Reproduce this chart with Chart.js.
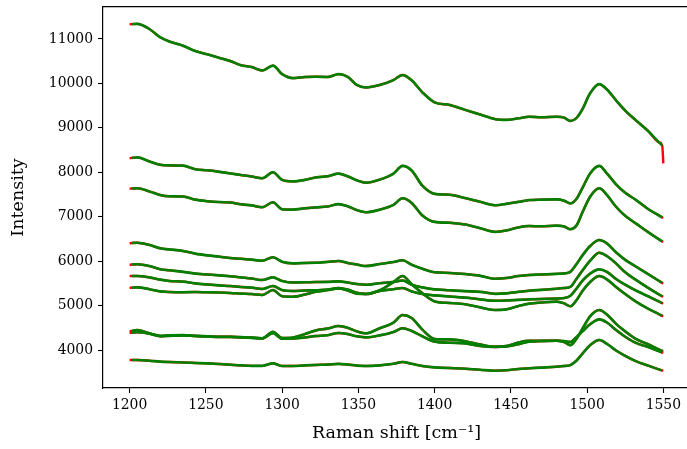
<!DOCTYPE html>
<html>
<head>
<meta charset="utf-8">
<script src="https://cdn.jsdelivr.net/npm/chart.js@4"></script>
<style>
  html, body { margin: 0; padding: 0; background: #fff; overflow: hidden; }
  canvas { display: block; }
</style>
</head>
<body>
<canvas id="ramanChart" width="690" height="449"></canvas>
<script>
// Raman shift axis (cm^-1)
const shift = [
  1200, 1201.5, 1205, 1213, 1220, 1226, 1235, 1243, 1251, 1259, 1266, 1273, 1280,
  1287, 1294, 1300, 1307, 1315, 1322, 1330, 1337, 1343, 1349, 1355, 1364, 1373,
  1379, 1385, 1392, 1400, 1410, 1420, 1430, 1440, 1447, 1455, 1462, 1470, 1480,
  1485, 1489, 1493, 1497, 1502, 1508, 1513, 1519, 1525, 1532, 1540, 1547, 1549.3, 1550
];

// intensities, one array per spectrum
const sample1 = [
  11330, 11335, 11340, 11225, 11040, 10945, 10850, 10730, 10655, 10575, 10505, 10410, 10370,
  10290, 10400, 10210, 10120, 10145, 10150, 10145, 10210, 10150, 9965, 9910, 9965, 10075,
  10190, 10070, 9800, 9575, 9515, 9405, 9300, 9195, 9180, 9215, 9250, 9240, 9250,
  9230, 9155, 9220, 9420, 9780, 9985, 9865, 9620, 9390, 9170, 8930, 8680, 8600, 8200
];
const sample2 = [
  8315, 8325, 8335, 8245, 8170, 8155, 8150, 8070, 8045, 8010, 7975, 7940, 7905,
  7865, 8000, 7830, 7795, 7830, 7885, 7910, 7970, 7910, 7820, 7765, 7835, 7970,
  8145, 8040, 7700, 7515, 7495, 7420, 7335, 7260, 7290, 7335, 7375, 7385, 7390,
  7360, 7300, 7400, 7650, 7975, 8145, 7975, 7730, 7540, 7380, 7175, 7030, 6985, 6980
];
const sample3 = [
  7630, 7635, 7640, 7570, 7490, 7460, 7455, 7385, 7350, 7330, 7320, 7280, 7255,
  7215, 7325, 7170, 7160, 7190, 7210, 7230, 7285, 7235, 7150, 7100, 7160, 7265,
  7415, 7310, 7030, 6885, 6865, 6825, 6740, 6660, 6690, 6760, 6790, 6785, 6800,
  6780, 6720, 6800, 7100, 7450, 7640, 7490, 7225, 7020, 6850, 6655, 6495, 6445, 6440
];
const sample4 = [
  6400, 6410, 6415, 6365, 6290, 6265, 6230, 6170, 6130, 6100, 6070, 6055, 6035,
  6010, 6090, 5985, 5950, 5960, 5965, 5985, 6005, 5960, 5925, 5890, 5935, 5980,
  6020, 5920, 5830, 5750, 5735, 5710, 5670, 5605, 5620, 5665, 5690, 5700, 5715,
  5725, 5760, 5930, 6130, 6340, 6475, 6400, 6200, 6030, 5880, 5710, 5560, 5510, 5500
];
const sample5 = [
  5915, 5925, 5930, 5890, 5820, 5795, 5760, 5720, 5700, 5680, 5660, 5635, 5610,
  5575, 5635, 5555, 5520, 5525, 5530, 5535, 5545, 5520, 5485, 5470, 5505, 5530,
  5565, 5470, 5410, 5365, 5345, 5325, 5310, 5265, 5275, 5310, 5335, 5355, 5380,
  5395, 5420, 5600, 5790, 6010, 6190, 6115, 5950, 5750, 5580, 5400, 5255, 5210, 5200
];
const sample6 = [
  5665, 5665, 5665, 5635, 5585, 5555, 5540, 5500, 5475, 5455, 5440, 5420, 5405,
  5375, 5440, 5350, 5330, 5340, 5345, 5360, 5395, 5360, 5290, 5260, 5330, 5370,
  5395, 5320, 5260, 5230, 5205, 5180, 5140, 5110, 5115, 5130, 5140, 5150, 5160,
  5170, 5220, 5380, 5560, 5720, 5815, 5760, 5600, 5470, 5340, 5210, 5095, 5055, 5050
];
const sample7 = [
  5400, 5405, 5410, 5370, 5320, 5305, 5300, 5305, 5300, 5295, 5285, 5270, 5260,
  5240, 5350, 5210, 5200, 5250, 5310, 5350, 5385, 5340, 5270, 5260, 5345, 5530,
  5665, 5480, 5280, 5095, 5060, 5030, 4960, 4900, 4915, 4990, 5045, 5070, 5090,
  5050, 4985, 5120, 5330, 5530, 5665, 5590, 5420, 5260, 5090, 4930, 4810, 4770, 4765
];
const sample8 = [
  4420, 4430, 4450, 4375, 4320, 4330, 4335, 4320, 4310, 4300, 4300, 4290, 4280,
  4265, 4410, 4270, 4280, 4360, 4440, 4485, 4540, 4500, 4420, 4375, 4490, 4615,
  4790, 4720, 4460, 4250, 4240, 4200, 4125, 4075, 4090, 4170, 4210, 4210, 4210,
  4180, 4110, 4250, 4480, 4760, 4900, 4800, 4590, 4420, 4250, 4130, 4015, 3980, 3977
];
const sample9 = [
  4385, 4390, 4400, 4370, 4310, 4320, 4330, 4315, 4305, 4295, 4295, 4285, 4275,
  4260, 4380, 4255, 4260, 4285, 4315, 4335, 4385, 4360, 4310, 4285, 4330, 4405,
  4490, 4430, 4310, 4190, 4165, 4150, 4090, 4070, 4080, 4130, 4190, 4200, 4210,
  4200, 4180, 4290, 4420, 4580, 4690, 4620, 4450, 4300, 4160, 4070, 3975, 3945, 3940
];
const sample10 = [
  3775, 3775, 3775, 3760, 3740, 3730, 3720, 3710, 3700, 3685, 3670, 3655, 3645,
  3645, 3700, 3640, 3640, 3655, 3665, 3675, 3690, 3675, 3650, 3640, 3655, 3690,
  3730, 3690, 3640, 3610, 3595, 3580, 3555, 3535, 3545, 3575, 3590, 3605, 3625,
  3640, 3660, 3760, 3920, 4110, 4225, 4140, 3990, 3870, 3750, 3650, 3565, 3540, 3535
];

const spectra = [sample1, sample2, sample3, sample4, sample5, sample6, sample7, sample8, sample9, sample10];

// tick positions
const xTicks = [1200, 1250, 1300, 1350, 1400, 1450, 1500, 1550];
const yTicks = [4000, 5000, 6000, 7000, 8000, 9000, 10000, 11000];

const FONT = "'DejaVu Serif', serif";

Chart.defaults.font.family = FONT;
Chart.defaults.font.size = 13.9;
Chart.defaults.color = "#000";

// raw trace in red, processed trace in green drawn over it
const datasets = [];
spectra.forEach((s) => {
  datasets.push({
    data: shift.map((x, i) => ({ x: x, y: s[i] })),
    borderColor: "red",
    borderWidth: 2.4,
    pointRadius: 0,
    cubicInterpolationMode: "monotone",
    order: 1,
  });
  datasets.push({
    data: shift.slice(1, -1).map((x, i) => ({ x: x, y: s[i + 1] })),
    borderColor: "green",
    borderWidth: 2.6,
    pointRadius: 0,
    cubicInterpolationMode: "monotone",
    order: 0,
  });
});

const spine = { display: true, color: "#000", width: 1.2 };
const tickGrid = { drawOnChartArea: false, tickLength: 5, tickColor: "#000", tickWidth: 1.1 };
const titleFont = { size: 17.5 };

// fixed axis box sizes, no extra label padding around the plot area
const fixHeight = (h) => (scale) => {
  scale.height = h;
  scale.paddingLeft = 0;
  scale.paddingRight = 0;
};
const fixWidth = (w) => (scale) => {
  scale.width = w;
  scale.paddingTop = 0;
  scale.paddingBottom = 0;
};

new Chart(document.getElementById("ramanChart"), {
  type: "line",
  data: { datasets: datasets },
  options: {
    responsive: false,
    animation: false,
    layout: { padding: 0 },
    plugins: {
      legend: { display: false },
      tooltip: { enabled: false },
    },
    scales: {
      x: {
        type: "linear",
        position: "bottom",
        min: 1182.56,
        max: 1567.5,
        border: spine,
        grid: tickGrid,
        ticks: {
          maxRotation: 0,
          padding: 4,
          callback: (v) => String(v),
        },
        afterBuildTicks: (scale) => {
          scale.ticks = xTicks.map((v) => ({ value: v }));
        },
        title: {
          display: true,
          text: "Raman shift [cm⁻¹]",
          font: titleFont,
          padding: { top: 0, bottom: 5.5 },
        },
        afterFit: fixHeight(61),
      },
      xTop: {
        type: "linear",
        position: "top",
        min: 0,
        max: 1,
        border: spine,
        grid: { display: false, drawTicks: false },
        ticks: { display: false },
        afterFit: fixHeight(7),
      },
      y: {
        type: "linear",
        min: 3146,
        max: 11720,
        border: spine,
        grid: tickGrid,
        ticks: {
          padding: 5,
          callback: (v) => String(v),
        },
        afterBuildTicks: (scale) => {
          scale.ticks = yTicks.map((v) => ({ value: v }));
        },
        title: {
          display: true,
          text: "Intensity",
          font: titleFont,
          padding: { top: 8, bottom: 0 },
        },
        afterFit: fixWidth(103),
      },
    },
  },
});
</script>
</body>
</html>
